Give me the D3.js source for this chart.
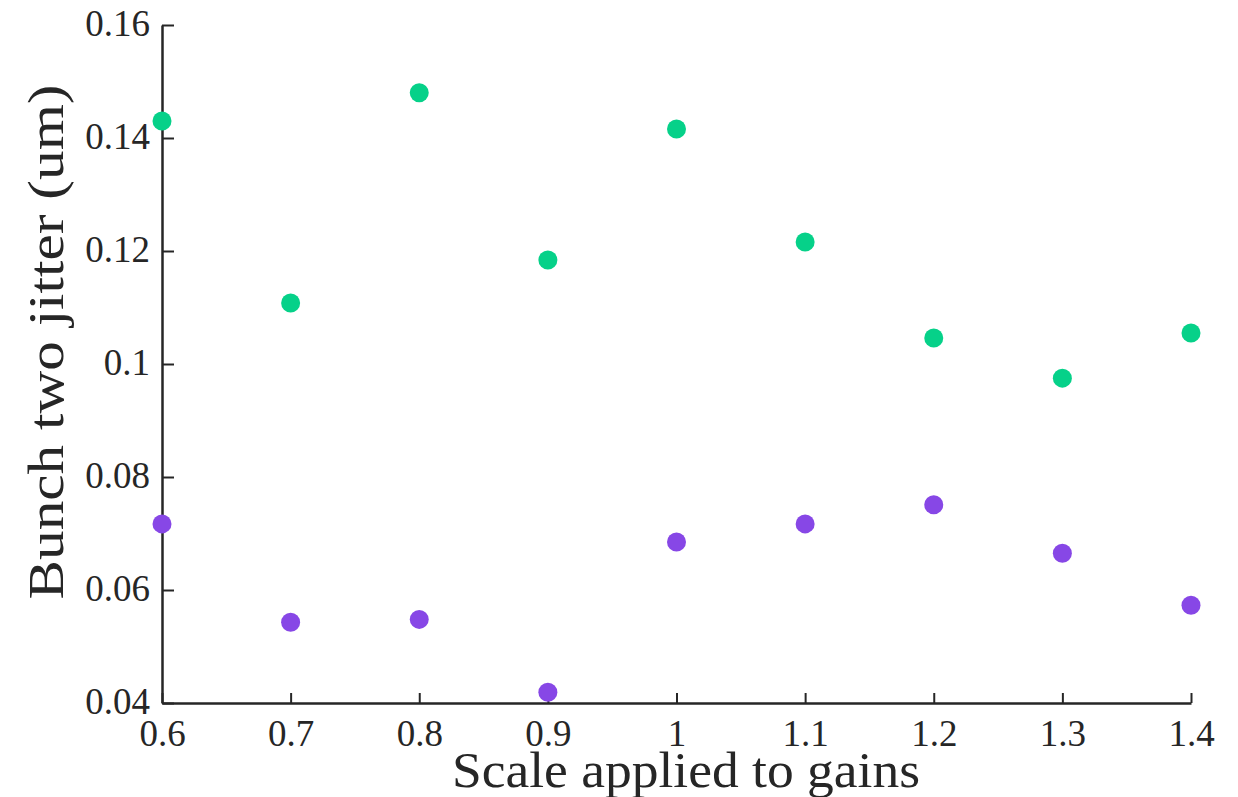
<!DOCTYPE html>
<html>
<head>
<meta charset="utf-8">
<script src="https://cdn.jsdelivr.net/npm/d3@7"></script>
<style>
  body { margin: 0; background: #fff; }
  svg text { font-family: "Liberation Serif", "DejaVu Serif", serif; fill: #262626; }
</style>
</head>
<body>
<div id="chart"></div>
<script>
// gain scale factors and measured jitter for bunch two
var scales = [0.6, 0.7, 0.8, 0.9, 1.0, 1.1, 1.2, 1.3, 1.4];
var jitterA = [0.1430, 0.1108, 0.1480, 0.1184, 0.1416, 0.1216, 0.1046, 0.0975, 0.1055];
var jitterB = [0.0717, 0.0543, 0.0548, 0.0419, 0.0685, 0.0717, 0.0751, 0.0665, 0.0573];
var xTicks = [0.6, 0.7, 0.8, 0.9, 1, 1.1, 1.2, 1.3, 1.4];
var yTicks = [0.04, 0.06, 0.08, 0.1, 0.12, 0.14, 0.16];

var width = 1238, height = 797;
var margin = {top: 25, right: 47, bottom: 94, left: 162};

var svg = d3.select("#chart").append("svg")
    .attr("width", width)
    .attr("height", height);

var x = d3.scaleLinear().domain([0.6, 1.4]).range([margin.left, width - margin.right]);
var y = d3.scaleLinear().domain([0.04, 0.16]).range([height - margin.bottom, margin.top]);

var axisColor = "#262626";

// x axis, ticks pointing into the plot
var xAxis = svg.append("g")
    .attr("transform", "translate(0," + y(0.04) + ")")
    .call(d3.axisBottom(x).tickValues(xTicks).tickSizeInner(-10).tickSizeOuter(0)
        .tickPadding(17).tickFormat(function(d) { return d3.format("")(+d.toFixed(2)); }));

var yAxis = svg.append("g")
    .attr("transform", "translate(" + x(0.6) + ",0)")
    .call(d3.axisLeft(y).tickValues(yTicks).tickSizeInner(-12).tickSizeOuter(0)
        .tickPadding(12).tickFormat(function(d) { return d3.format("")(+d.toFixed(2)); }));

[xAxis, yAxis].forEach(function(g) {
  g.select(".domain").attr("stroke", axisColor).attr("stroke-width", 2.5);
  g.selectAll(".tick line").attr("stroke", axisColor).attr("stroke-width", 2);
  g.selectAll(".tick text")
      .style("font-family", "'Liberation Serif', serif")
      .attr("font-size", 37)
      .attr("fill", "#262626");
});
xAxis.selectAll(".tick text").attr("dy", "0.71em");
yAxis.selectAll(".tick text").attr("dy", "0.28em");

// scatter points
svg.append("g").selectAll("circle.a")
    .data(scales.map(function(s, i) { return {s: s, v: jitterA[i]}; }))
    .enter().append("circle")
    .attr("cx", function(d) { return x(d.s); })
    .attr("cy", function(d) { return y(d.v); })
    .attr("r", 9.5)
    .attr("fill", "#06d189");

svg.append("g").selectAll("circle.b")
    .data(scales.map(function(s, i) { return {s: s, v: jitterB[i]}; }))
    .enter().append("circle")
    .attr("cx", function(d) { return x(d.s); })
    .attr("cy", function(d) { return y(d.v); })
    .attr("r", 9.5)
    .attr("fill", "#8747e6");

// axis titles
svg.append("text")
    .attr("x", 686)
    .attr("y", 787)
    .attr("text-anchor", "middle")
    .attr("font-size", 50)
    .attr("textLength", 468)
    .attr("lengthAdjust", "spacingAndGlyphs")
    .text("Scale applied to gains");

svg.append("text")
    .attr("transform", "translate(63,342) rotate(-90)")
    .attr("text-anchor", "middle")
    .attr("font-size", 50)
    .attr("textLength", 515)
    .attr("lengthAdjust", "spacingAndGlyphs")
    .text("Bunch two jitter (um)");
</script>
</body>
</html>
